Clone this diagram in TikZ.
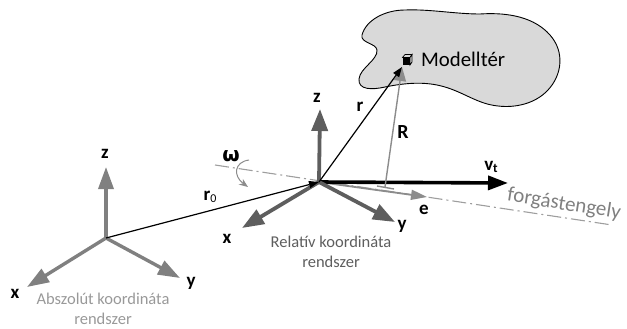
\documentclass[tikz,border=0pt]{standalone}
\usepackage{fontspec}
\setmainfont{Carlito}
\usetikzlibrary{arrows.meta}
\definecolor{absgray}{gray}{0.5}
\definecolor{relgray}{gray}{0.37}
\definecolor{axisgray}{gray}{0.62}
\definecolor{midgray}{gray}{0.55}
\definecolor{blobgray}{gray}{0.85}
\tikzset{
  x=1pt,y=-1pt,
  absaxis/.style={draw=absgray,line width=3.4pt,-{Triangle[length=22pt,width=15pt]}},
  relaxis/.style={draw=relgray,line width=3.8pt,-{Triangle[length=22pt,width=16pt]}},
  thinvec/.style={draw=black,line width=1.2pt},
  axlabel/.style={font=\fontsize{19}{19}\selectfont\bfseries,inner sep=0pt,text=black},
  caption/.style={font=\fontsize{16.5}{20.5}\selectfont,align=center,inner sep=0pt},
}
\begin{document}
\begin{tikzpicture}
\useasboundingbox (0,0) rectangle (627,329);
% model space
\draw[fill=blobgray,draw=black,line width=0.9pt]
  (362,35) .. controls (366,20) and (385,10) .. (405,10)
  .. controls (430,9) and (455,14) .. (480,14)
  .. controls (510,12) and (535,18) .. (550,35)
  .. controls (565,52) and (562,75) .. (548,90)
  .. controls (535,104) and (515,108) .. (498,106)
  .. controls (478,104) and (465,93) .. (445,87)
  .. controls (425,81) and (405,83) .. (385,87)
  .. controls (372,90) and (358,90) .. (359,79)
  .. controls (360,68) and (378,60) .. (377,50)
  .. controls (376,43) and (360,43) .. (362,35) -- cycle;
% anchors
\coordinate (O) at (319,182);
\coordinate (A) at (106,238);
\coordinate (ztipR) at (320,109);
\coordinate (xtipR) at (242,228);
\coordinate (ytipR) at (395,222);
\coordinate (etip) at (427,197);
\coordinate (vtip) at (508,183);
\coordinate (ztipA) at (106,167);
\coordinate (xtipA) at (27,287);
\coordinate (ytipA) at (180,278);
\coordinate (P) at (402,67);
\coordinate (Rfoot) at (385,187);
\coordinate (Rtick1) at (377,186);
\coordinate (Rtick2) at (394,189);
\coordinate (axL) at (215,165);
\coordinate (axR) at (612,225);
\coordinate (om1) at (249,160);
\coordinate (om2) at (248,187);
% rotation axis
\draw[draw=axisgray,line width=1.1pt,dash pattern=on 14pt off 4pt on 2pt off 4pt] (axL) -- (axR);
% omega arc
\draw[draw=midgray,line width=1pt,-{Stealth[length=9pt,width=7pt]}] (om1) .. controls (234,162) and (233,176) .. (om2);
% absolute frame
\draw[absaxis] (A) -- (ztipA);
\draw[absaxis] (A) -- (xtipA);
\draw[absaxis] (A) -- (ytipA);
% e, v_t
\draw[draw=midgray,line width=1.8pt,-{Triangle[length=16pt,width=10pt]}] (O) -- (etip);
\draw[draw=black,line width=3.6pt,-{Triangle[length=20pt,width=14pt]}] (O) -- (vtip);
% R
\draw[draw=midgray,line width=1.4pt] (Rtick1) -- (Rtick2);
\draw[draw=midgray,line width=1.4pt,-{Triangle[length=14pt,width=12pt]}] (Rfoot) -- (P);
% relative frame
\draw[relaxis] (O) -- (ztipR);
\draw[relaxis] (O) -- (xtipR);
\draw[relaxis] (O) -- (ytipR);
% r, r0
\draw[thinvec,-{Triangle[length=10pt,width=7pt]}] (O) -- (P);
\draw[thinvec,-{Triangle[length=10pt,width=7pt]}] (A) -- (O);
% cube
\fill[black] (402.5,57.5) rectangle (410,65);
\draw[draw=black,line width=0.7pt,fill=blobgray] (402.5,57.5) -- (405,54.5) -- (412,54.5) -- (410,57.5) -- cycle;
\draw[draw=black,line width=0.7pt,fill=blobgray] (410,57.5) -- (412,54.5) -- (412,62) -- (410,65) -- cycle;
% labels
\node[font=\fontsize{20.8}{24}\selectfont,anchor=west,inner sep=0pt] (mt) at (421,59.5) {Modelltér};
\node[axlabel] (lr) at (360,107) {r};
\node[axlabel] (lR) at (403,132) {\fontsize{20}{20}\selectfont R};
\node[axlabel] (lzr) at (317,98) {z};
\node[axlabel] (lom) at (231,156) {\fontspec{DejaVu Sans}\fontsize{20}{20}\selectfont\bfseries ω};
\node[axlabel] (lr0) at (210,197) {r\raisebox{-2pt}{\fontsize{12}{12}\selectfont\mdseries 0}};
\node[axlabel] (lvt) at (491,167) {v\raisebox{-2pt}{\fontsize{13}{13}\selectfont t}};
\node[axlabel] (le) at (424,210) {e};
\node[axlabel] (lxr) at (227,239) {x};
\node[axlabel] (lyr) at (402,226) {y};
\node[caption,text=relgray] (cr) at (331,252) {Relatív koordináta\\rendszer};
\node[axlabel] (lza) at (105,154) {z};
\node[axlabel] (lxa) at (15,294) {x};
\node[axlabel] (lya) at (191,283) {y};
\node[caption,text=absgray!80!white] (ca) at (103,309) {Abszolút koordináta\\rendszer};
\node[font=\fontsize{21}{21}\selectfont,text=absgray,rotate=-9,inner sep=0pt] (fg) at (564,204.5) {forgástengely};
\end{tikzpicture}
\end{document}
